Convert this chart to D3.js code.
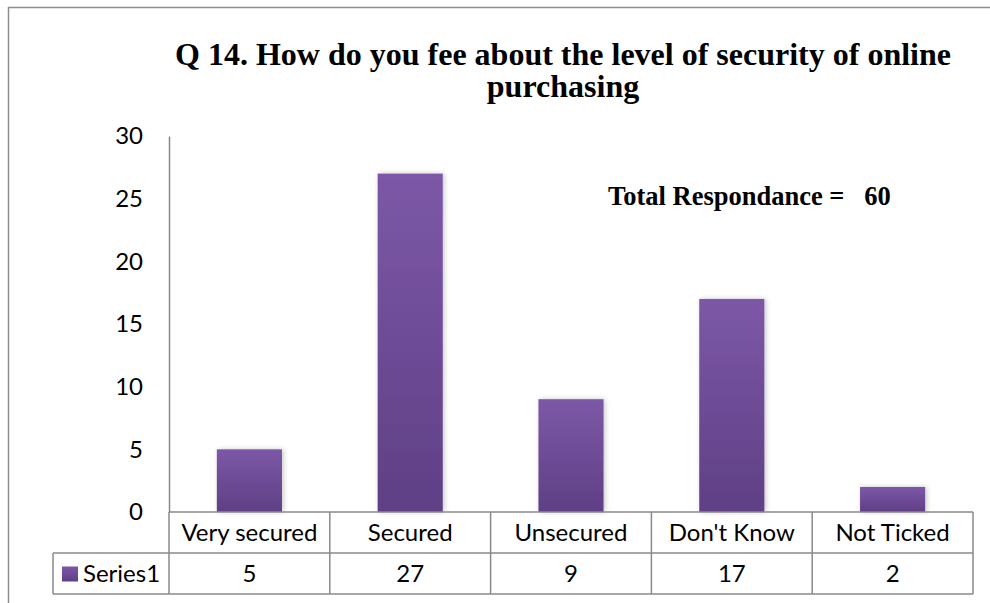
<!DOCTYPE html>
<html>
<head>
<meta charset="utf-8">
<script src="https://cdn.jsdelivr.net/npm/d3@7/dist/d3.min.js"></script>
<style>
  html, body { margin: 0; padding: 0; background: #fff; }
  svg { display: block; }
</style>
</head>
<body>
<svg id="chart" width="990" height="603"></svg>
<script>
// Survey answers, Q 14
const categories = ["Very secured", "Secured", "Unsecured", "Don't Know", "Not Ticked"];
const series1 = [5, 27, 9, 17, 2];
const seriesName = "Series1";
const yTicks = [0, 5, 10, 15, 20, 25, 30];
const titleLines = ["Q 14. How do you fee about the level of security of online", "purchasing"];
const totalLabel = "Total Respondance =   60";

const svg = d3.select("#chart");
const W = 990, H = 603;
const plot = { left: 169, right: 973, top: 136, bottom: 512 };
const rowH = 41;
const legendLeft = 53;
const gridColor = "#8a8a8a";
const labelFont = "Lato, 'Open Sans', sans-serif";
const labelSize = 24;

const defs = svg.append("defs");
const grad = defs.append("linearGradient")
  .attr("id", "barFill").attr("x1", 0).attr("y1", 0).attr("x2", 0).attr("y2", 1);
grad.append("stop").attr("offset", "0%").attr("stop-color", "#7c58a7");
grad.append("stop").attr("offset", "100%").attr("stop-color", "#5f3f85");

const shadow = defs.append("filter").attr("id", "barShadow")
  .attr("x", "-20%").attr("y", "-10%").attr("width", "140%").attr("height", "120%");
shadow.append("feDropShadow").attr("dx", 1.5).attr("dy", 0).attr("stdDeviation", 2.5)
  .attr("flood-color", "#000").attr("flood-opacity", 0.22);

// chart frame
svg.append("path")
  .attr("d", `M8.5,${H} V7.5 H${W}`)
  .attr("fill", "none").attr("stroke", "#8e8e8e").attr("stroke-width", 1.5);

// title, two lines
const titleFont = "'Liberation Serif', 'Times New Roman', serif";
titleLines.forEach((t, i) => {
  svg.append("text")
    .attr("x", 563).attr("y", 65 + i * 32)
    .attr("text-anchor", "middle")
    .attr("font-family", titleFont)
    .attr("font-weight", "bold").attr("font-size", 32).attr("fill", "#000")
    .text(t);
});

// scales
const x = d3.scaleBand().domain(categories).range([plot.left, plot.right]).paddingInner(0).paddingOuter(0);
const y = d3.scaleLinear().domain([0, 30]).range([plot.bottom, plot.top]);
const barW = x.bandwidth() * 0.405;

// y axis
const yAxis = d3.axisLeft(y).tickValues(yTicks).tickSize(0).tickPadding(26);
const yg = svg.append("g").attr("transform", `translate(${plot.left},0)`).call(yAxis);
yg.select(".domain").attr("stroke", gridColor).attr("stroke-width", 1.5);
yg.selectAll("text").attr("font-family", labelFont).attr("font-size", labelSize).attr("fill", "#000");

// bars
svg.append("g").selectAll("rect")
  .data(series1)
  .join("rect")
  .attr("x", (d, i) => x(categories[i]) + (x.bandwidth() - barW) / 2)
  .attr("y", d => y(d))
  .attr("width", barW)
  .attr("height", d => y(0) - y(d))
  .attr("fill", "url(#barFill)")
  .attr("filter", "url(#barShadow)");

// data table under the axis
const table = svg.append("g").attr("stroke", gridColor).attr("stroke-width", 1.5).attr("fill", "none");
table.append("line").attr("x1", plot.left).attr("x2", plot.right).attr("y1", plot.bottom).attr("y2", plot.bottom);
table.append("line").attr("x1", legendLeft).attr("x2", plot.right).attr("y1", plot.bottom + rowH).attr("y2", plot.bottom + rowH);
table.append("line").attr("x1", legendLeft).attr("x2", plot.right).attr("y1", plot.bottom + 2 * rowH).attr("y2", plot.bottom + 2 * rowH);
table.append("line").attr("x1", legendLeft).attr("x2", legendLeft).attr("y1", plot.bottom + rowH).attr("y2", plot.bottom + 2 * rowH);
categories.forEach(c => {
  table.append("line").attr("x1", x(c)).attr("x2", x(c)).attr("y1", plot.bottom).attr("y2", plot.bottom + 2 * rowH);
});
table.append("line").attr("x1", plot.right).attr("x2", plot.right).attr("y1", plot.bottom).attr("y2", plot.bottom + 2 * rowH);

const cellText = svg.append("g").attr("font-family", labelFont).attr("font-size", labelSize).attr("fill", "#000")
  .attr("text-anchor", "middle");
cellText.selectAll(".cat").data(categories).join("text").attr("class", "cat")
  .attr("x", d => x(d) + x.bandwidth() / 2)
  .attr("y", plot.bottom + rowH / 2).attr("dy", "0.35em").text(d => d);
cellText.selectAll(".val").data(series1).join("text").attr("class", "val")
  .attr("x", (d, i) => x(categories[i]) + x.bandwidth() / 2)
  .attr("y", plot.bottom + rowH * 1.5).attr("dy", "0.35em").text(d => d);

// legend key in the table
svg.append("rect").attr("x", 62).attr("y", plot.bottom + rowH * 1.5 - 7).attr("width", 16).attr("height", 15)
  .attr("fill", "url(#barFill)");
svg.append("text").attr("x", 83).attr("y", plot.bottom + rowH * 1.5).attr("dy", "0.35em")
  .attr("font-family", labelFont).attr("font-size", labelSize).attr("fill", "#000").text(seriesName);

// total annotation
svg.append("text").attr("x", 608).attr("y", 205)
  .attr("font-family", titleFont)
  .attr("font-weight", "bold").attr("font-size", 26.5).attr("fill", "#000")
  .attr("xml:space", "preserve").style("white-space", "pre")
  .text(totalLabel);
</script>
</body>
</html>
